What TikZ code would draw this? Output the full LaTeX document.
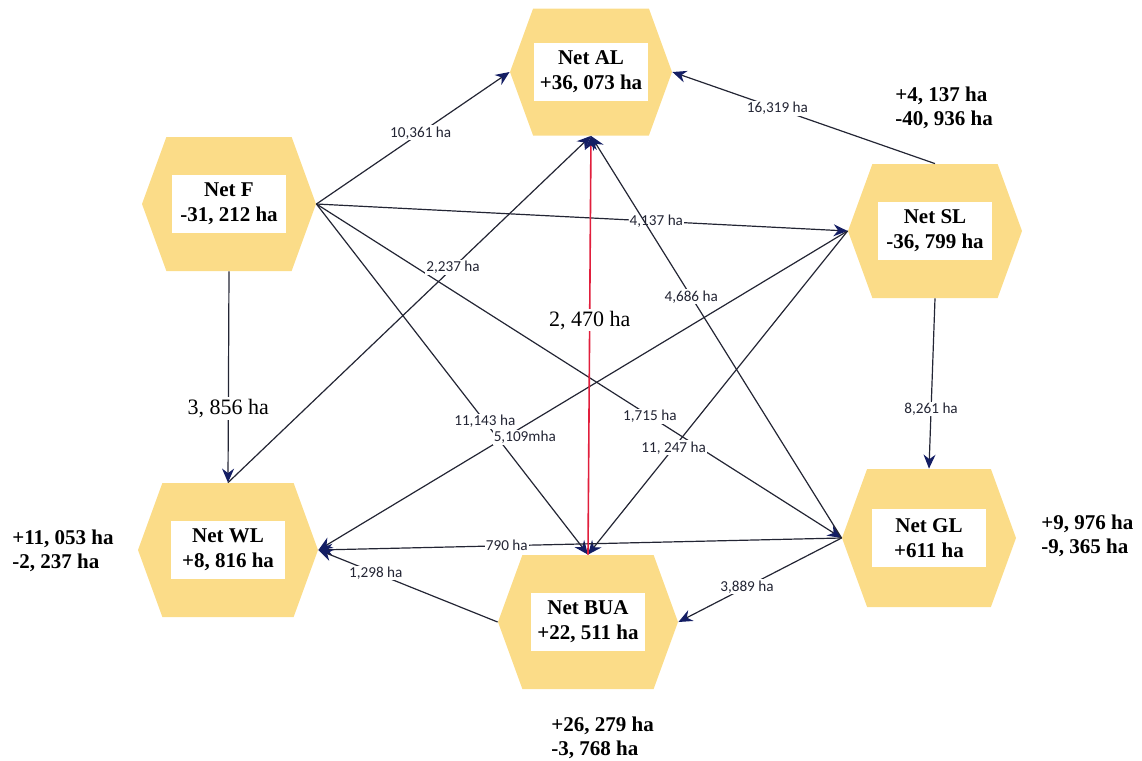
\documentclass[tikz,border=0pt]{standalone}
\usepackage{fontspec}
\setmainfont{Liberation Serif}
\newfontfamily\labfont{Carlito}
\usetikzlibrary{arrows.meta, shapes.symbols, calc}

\definecolor{hexfill}{RGB}{251,220,136}
\definecolor{arrnavy}{RGB}{20,30,100}
\definecolor{linegray}{RGB}{35,37,52}
\definecolor{flowred}{RGB}{225,30,60}

\tikzset{
	hexbox/.style={shape=signal, signal to=west and east, signal pointer angle=140, fill=hexfill, draw=none, minimum width=87pt, minimum height=67pt, inner sep=0pt},
	netbox/.style={fill=white, align=center, font=\fontsize{10.5}{12.5}\selectfont\bfseries, minimum width=57pt, minimum height=29pt, inner sep=1pt},
	flow/.style={draw=linegray, line width=0.6pt, -{Stealth[length=7pt, width=6pt, color=arrnavy]}},
	qty/.style={fill=white, font=\labfont\fontsize{7.6}{9}\selectfont, inner sep=0.6pt, text=linegray},
	bigqty/.style={fill=white, font=\fontsize{11}{13}\selectfont, inner sep=1pt},
	sumtxt/.style={align=left, font=\fontsize{10.5}{12}\selectfont\bfseries, inner sep=0pt}
}

\begin{document}
\begin{tikzpicture}[x=0.5pt,y=-0.5pt]

	\useasboundingbox (0,0) rectangle (1142,761);

	% land cover classes
	\node[hexbox, minimum width=81pt, minimum height=63.5pt] (AL) at (591,72) {};
	\node[hexbox] (F) at (229,204) {};
	\node[hexbox] (SL) at (935,231) {};
	\node[hexbox, minimum width=90pt] (WL) at (228,550) {};
	\node[hexbox, minimum width=90pt] (BUA) at (588,622) {};
	\node[hexbox, minimum height=69pt] (GL) at (929,538) {};

	\node[netbox] (ALt) at (AL) {Net AL\\+36, 073 ha};
	\node[netbox] (Ft) at (F) {Net F\\-31, 212 ha};
	\node[netbox] (SLt) at (SL) {Net SL\\-36, 799 ha};
	\node[netbox] (WLt) at (WL) {Net WL\\+8, 816 ha};
	\node[netbox] (BUAt) at (BUA) {Net BUA\\+22, 511 ha};
	\node[netbox] (GLt) at (GL) {Net GL\\+611 ha};

	% gains and losses
	\node[sumtxt, anchor=west] (SLsum) at (895,108) {+4, 137 ha\\-40, 936 ha};
	\node[sumtxt, anchor=west] (WLsum) at (12,551) {+11, 053 ha\\-2, 237 ha};
	\node[sumtxt, anchor=west] (BUAsum) at (551,738) {+26, 279 ha\\-3, 768 ha};
	\node[sumtxt, anchor=west] (GLsum) at (1041,536) {+9, 976 ha\\-9, 365 ha};

	% transitions
	\draw[flow] (F.east) -- node[qty, pos=0.54] (fal) {10,361 ha} (AL.west);
	\draw[flow] (F.east) -- node[qty, pos=0.64] (fsl) {4,137 ha} (SL.west);
	\draw[flow] (F.east) -- node[qty, pos=0.62] (fbua) {11,143 ha} (BUA.north);
	\draw[flow] (F.east) -- node[qty, pos=0.635] (fgl) {1,715 ha} (GL.west);
	\draw[flow] (F.south) -- node[bigqty, pos=0.65] (fwl) {3, 856 ha} (WL.north);

	\draw[flow] (SL.north) -- node[qty, pos=0.60] (slal) {16,319 ha} (AL.east);
	\draw[flow] (SL.south) -- node[qty, pos=0.65] (slgl) {8,261 ha} (GL.north);
	\draw[flow] (SL.west) -- node[qty, pos=0.61, yshift=-6pt] (slwl) {5,109mha} (WL.east);
	\draw[flow] (SL.west) -- node[qty, pos=0.67] (slbua) {11, 247 ha} (BUA.north);

	\draw[flow] (WL.north) -- node[qty, pos=0.62] (wlal) {2,237 ha} (AL.south);

	\draw[flow] (GL.west) -- node[qty, pos=0.60] (glal) {4,686 ha} (AL.south);
	\draw[flow] (GL.west) -- node[qty, pos=0.64] (glwl) {790 ha} (WL.east);
	\draw[flow] (GL.west) -- node[qty, pos=0.58] (glbua) {3,889 ha} (BUA.east);

	\draw[flow] (BUA.west) -- node[qty, pos=0.68] (buawl) {1,298 ha} (WL.east);
	\draw[flow, draw=flowred, line width=0.8pt] (BUA.north) -- node[bigqty, pos=0.56] (bual) {2, 470 ha} (AL.south);

\end{tikzpicture}
\end{document}
